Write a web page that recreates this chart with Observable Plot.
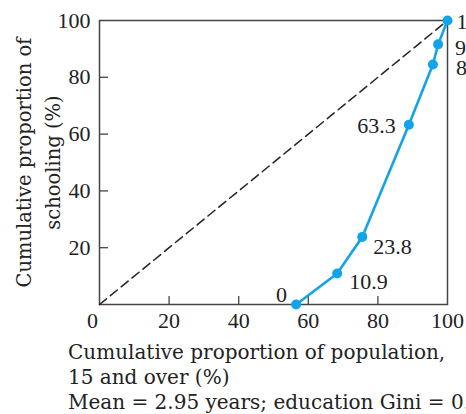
<!DOCTYPE html>
<html>
<head>
<meta charset="utf-8">
<script src="https://cdn.jsdelivr.net/npm/d3@7"></script>
<script src="https://cdn.jsdelivr.net/npm/@observablehq/plot@0.6"></script>
<style>
  html, body { margin: 0; padding: 0; background: #fff; overflow: hidden; width: 466px; height: 414px; }
  #chart svg { display: block; }
  .caption { font-family: "DejaVu Serif", serif; font-size: 20px; color: #222; padding-left: 68px; line-height: 25px; white-space: nowrap; margin-top: 0px; }
</style>
</head>
<body>
<div id="chart"></div>
<div class="caption">Cumulative proportion of population,<br>15 and over (%)<br>Mean = 2.95 years; education Gini = 0.69</div>
<script>
const population = [56.5, 68.3, 75.5, 88.9, 95.8, 97.3, 100];
const schooling = [0, 10.9, 23.8, 63.3, 84.5, 91.6, 100];
const pointLabels = ["0", "10.9", "23.8", "63.3", "84.5", "91.6", "100"];
const equality = [0, 100];
const xTicks = [0, 20, 40, 60, 80, 100];
const yTicks = [20, 40, 60, 80, 100];
const yLabel = "Cumulative proportion of\nschooling (%)";

const data = population.map((p, i) => ({x: p, y: schooling[i], label: pointLabels[i]}));
const diag = equality.map(v => ({x: v, y: v}));

// label placement (offset in px, anchor) per point
const place = [
  {dx: -9, dy: -10, anchor: "end"},
  {dx: 12, dy: 8, anchor: "start"},
  {dx: 11, dy: 10, anchor: "start"},
  {dx: -13, dy: 1, anchor: "end"},
  {dx: 23, dy: 3, anchor: "start"},
  {dx: 17, dy: 4, anchor: "start"},
  {dx: 9, dy: 1, anchor: "start"}
];

const blue = "#12a4ea";
const numFont = "Liberation Serif";
const textFont = "DejaVu Serif";
const fs = 22;

const plot = Plot.plot({
  width: 466,
  height: 340,
  marginLeft: 99,
  marginRight: 19,
  marginTop: 20,
  marginBottom: 36,
  style: {fontFamily: numFont, fontSize: fs + "px", color: "#222", background: "#fff"},
  x: {domain: [0, 100]},
  y: {domain: [0, 100]},
  marks: [
    Plot.axisX([20, 40, 60, 80], {tickSize: -8, tickFormat: () => "", stroke: "#444", strokeWidth: 1.3, label: null}),
    Plot.axisX(xTicks.filter(d => d !== 0), {tickSize: 0, tickPadding: 8, label: null, fontSize: fs, fill: "#222"}),
    Plot.axisX(xTicks.filter(d => d === 0), {tickSize: 0, tickPadding: 8, dx: -7, label: null, fontSize: fs, fill: "#222"}),
    Plot.axisY([20, 40, 60, 80], {tickSize: -9, tickFormat: () => "", stroke: "#444", strokeWidth: 1.3, label: null}),
    Plot.axisY(yTicks, {tickSize: 0, tickPadding: 9, label: null, fontSize: fs, fill: "#222"}),
    Plot.frame({stroke: "#444", strokeWidth: 1.5}),
    Plot.line(diag, {x: "x", y: "y", stroke: "#222", strokeWidth: 1.5, strokeDasharray: "9,5"}),
    Plot.line(data, {x: "x", y: "y", stroke: blue, strokeWidth: 2.6}),
    Plot.dot(data, {x: "x", y: "y", r: 5, fill: blue}),
    ...data.map((d, i) => Plot.text([d], {x: "x", y: "y", text: "label", dx: place[i].dx, dy: place[i].dy, textAnchor: place[i].anchor, fontSize: fs, fill: "#222"})),
    Plot.text([yLabel], {frameAnchor: "left", dx: -63, rotate: -90, text: d => d, textAnchor: "middle", lineAnchor: "middle", fontFamily: textFont, fontSize: 19.5, lineHeight: 1.45, fill: "#222"})
  ]
});
document.getElementById("chart").appendChild(plot);
</script>
</body>
</html>
